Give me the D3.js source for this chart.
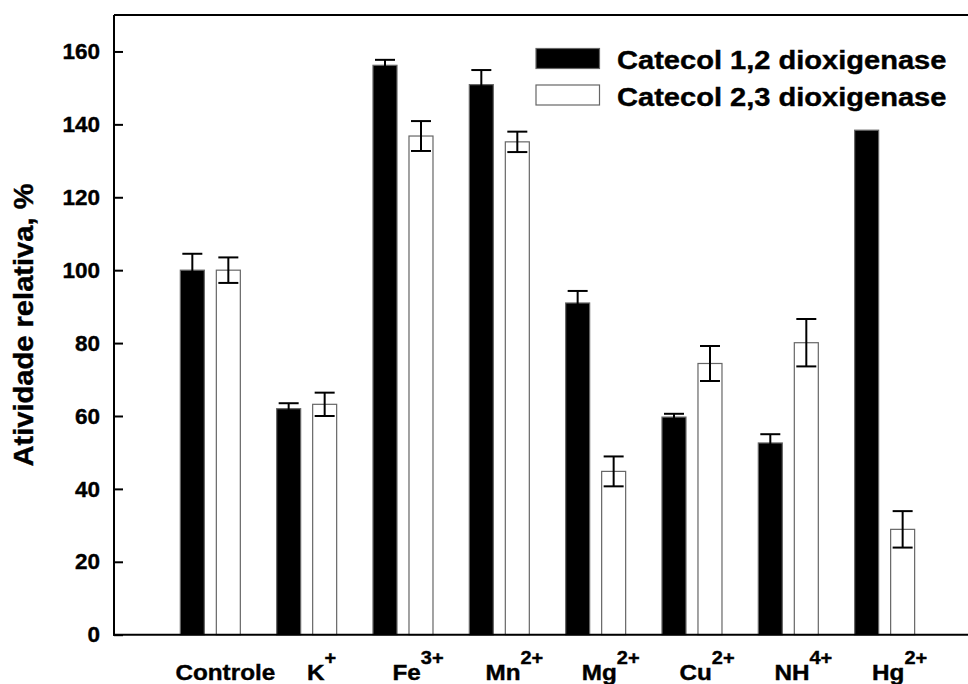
<!DOCTYPE html>
<html>
<head>
<meta charset="utf-8">
<script src="https://cdn.jsdelivr.net/npm/d3@7"></script>
<style>
  html, body { margin: 0; padding: 0; background: #fff; }
  svg { display: block; }
  text { font-family: "Liberation Sans", Arial, sans-serif; font-weight: bold; fill: #000; stroke: #000; stroke-width: 0.4px; }
</style>
</head>
<body>
<svg id="chart" width="968" height="684"></svg>
<script>
// Relative enzyme activity (%) for each ion treatment
const categories = ["Controle", "K", "Fe", "Mn", "Mg", "Cu", "NH", "Hg"];
const superscripts = ["", "+", "3+", "2+", "2+", "2+", "4+", "2+"];
const seriesNames = ["Catecol 1,2 dioxigenase", "Catecol 2,3 dioxigenase"];
const catecol12 = [100, 62, 156.2, 150.9, 91, 59.7, 52.6, 138.4];
const catecol12Err = [4.5, 1.5, 1.5, 4, 3.3, 0.9, 2.4, 0];
const catecol23 = [100, 63.2, 136.8, 135.2, 44.8, 74.4, 80.1, 28.9];
const catecol23Err = [3.5, 3.2, 4.1, 2.8, 4.1, 4.8, 6.5, 5];
const yTicks = [0, 20, 40, 60, 80, 100, 120, 140, 160];

const svg = d3.select("#chart");
const plotLeft = 114, plotTop = 15, plotBottom = 634.7;
const step = 96.33;

const x0 = d3.scaleBand()
  .domain(categories)
  .range([plotLeft, plotLeft + step * (categories.length + 1)])
  .paddingInner(0)
  .paddingOuter(0.5);
const x1 = d3.scaleBand()
  .domain(seriesNames)
  .range([-30, 30])
  .paddingInner(1 / 3);
const y = d3.scaleLinear().domain([0, 170]).range([plotBottom, plotTop]);

const rows = categories.map((c, i) => ({
  cat: c,
  sup: superscripts[i],
  vals: [
    { s: seriesNames[0], v: catecol12[i], e: catecol12Err[i] },
    { s: seriesNames[1], v: catecol23[i], e: catecol23Err[i] }
  ]
}));
const fills = { [seriesNames[0]]: "#000", [seriesNames[1]]: "#fff" };

// bars
const groups = svg.append("g").selectAll("g").data(rows).join("g")
  .attr("transform", d => `translate(${x0(d.cat) + x0.bandwidth() / 2},0)`);

groups.selectAll("rect").data(d => d.vals).join("rect")
  .attr("x", d => x1(d.s))
  .attr("width", x1.bandwidth())
  .attr("y", d => y(d.v))
  .attr("height", d => y(0) - y(d.v))
  .attr("fill", d => fills[d.s])
  .attr("stroke", "#666")
  .attr("stroke-width", 1.2);

// error bars (the lower half of a filled bar's whisker is hidden inside it)
const eb = groups.selectAll("g.err").data(d => d.vals.filter(v => v.e > 0)).join("g")
  .attr("class", "err")
  .attr("stroke", "#000")
  .attr("stroke-width", 2);
eb.append("line")
  .attr("x1", d => x1(d.s) + x1.bandwidth() / 2)
  .attr("x2", d => x1(d.s) + x1.bandwidth() / 2)
  .attr("y1", d => y(d.v - d.e))
  .attr("y2", d => y(d.v + d.e));
eb.append("line")
  .attr("x1", d => x1(d.s) + x1.bandwidth() / 2 - 10)
  .attr("x2", d => x1(d.s) + x1.bandwidth() / 2 + 10)
  .attr("y1", d => y(d.v + d.e))
  .attr("y2", d => y(d.v + d.e));
eb.filter(d => fills[d.s] === "#fff").append("line")
  .attr("x1", d => x1(d.s) + x1.bandwidth() / 2 - 10)
  .attr("x2", d => x1(d.s) + x1.bandwidth() / 2 + 10)
  .attr("y1", d => y(d.v - d.e))
  .attr("y2", d => y(d.v - d.e));

// y axis with inward ticks
const yAxis = d3.axisLeft(y).tickValues(yTicks).tickSizeInner(-9).tickSizeOuter(0).tickPadding(14);
const gy = svg.append("g").attr("transform", `translate(${plotLeft},0)`).call(yAxis);
gy.select(".domain").remove();
gy.selectAll(".tick line").attr("stroke", "#000").attr("stroke-width", 2);
gy.selectAll(".tick text")
  .style("font-size", "22.5px")
  .style("font-family", "'Liberation Sans', Arial, sans-serif")
  .style("font-weight", "bold")
  .attr("fill", "#000");

// frame: left, top and bottom lines
svg.append("line").attr("x1", plotLeft).attr("x2", plotLeft).attr("y1", plotTop).attr("y2", plotBottom + 1)
  .attr("stroke", "#000").attr("stroke-width", 2);
svg.append("line").attr("x1", plotLeft).attr("x2", 968).attr("y1", plotTop).attr("y2", plotTop)
  .attr("stroke", "#000").attr("stroke-width", 2);
svg.append("line").attr("x1", plotLeft - 1).attr("x2", 968).attr("y1", plotBottom).attr("y2", plotBottom)
  .attr("stroke", "#000").attr("stroke-width", 2);

// category labels with superscript charges
const lab = svg.append("g").selectAll("text").data(rows).join("text")
  .attr("transform", d => `translate(${x0(d.cat) + x0.bandwidth() / 2 + 15},680) scale(1.08,1)`)
  .attr("text-anchor", "middle")
  .style("font-size", "22.5px");
lab.append("tspan").text(d => d.cat);
lab.filter(d => d.sup).append("tspan")
  .attr("dy", -16.5)
  .style("font-size", "18.5px")
  .text(d => d.sup);

// y axis title
svg.append("text")
  .attr("transform", `translate(33,325) rotate(-90) scale(1.04,1)`)
  .attr("text-anchor", "middle")
  .style("font-size", "28px")
  .text("Atividade relativa, %");

// legend
const legend = svg.append("g");
seriesNames.forEach((s, i) => {
  legend.append("rect")
    .attr("x", 536).attr("y", 48.5 + i * 36.5)
    .attr("width", 63.5).attr("height", 20)
    .attr("fill", fills[s]).attr("stroke", "#666").attr("stroke-width", 1.2);
  legend.append("text")
    .attr("transform", `translate(617,${69 + i * 37}) scale(1.14,1)`)
    .style("font-size", "25.5px")
    .text(s);
});
</script>
</body>
</html>
